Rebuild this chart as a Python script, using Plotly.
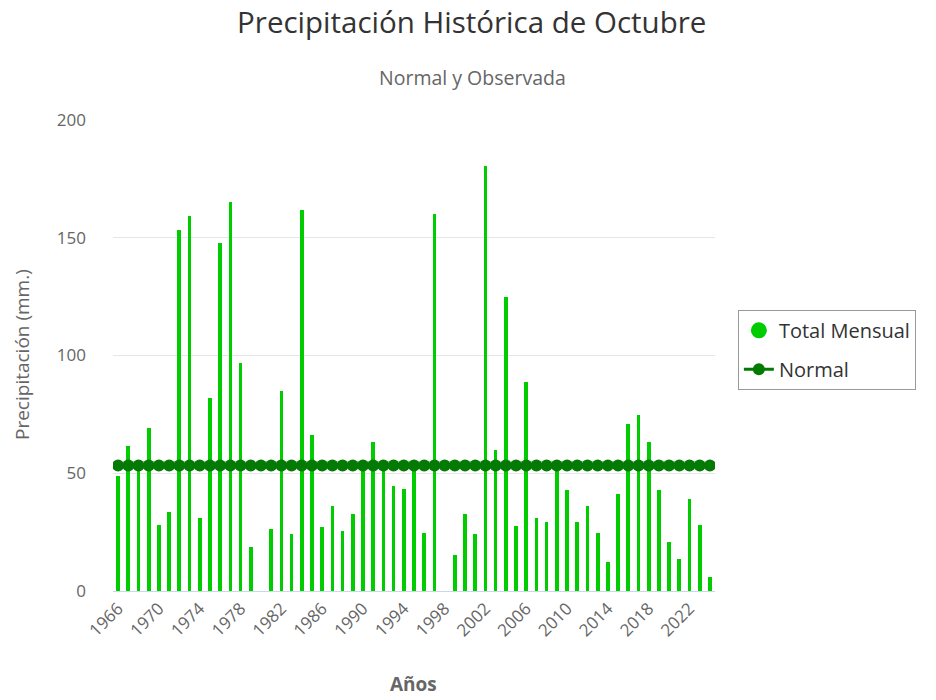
import plotly.graph_objects as go

years = list(range(1966, 2025))
total_mensual = [
    49.0, 61.5, 52.0, 69.4, 27.9, 33.4, 153.2, 159.4, 31.0, 82.0,
    147.6, 165.0, 96.8, 18.6, 0.0, 26.3, 85.0, 24.0, 161.8, 66.2,
    27.2, 36.3, 25.5, 32.5, 52.0, 63.1, 52.0, 44.4, 43.5, 52.0,
    24.6, 160.1, 0.0, 15.4, 32.5, 24.0, 180.6, 59.9, 124.9, 27.7,
    88.7, 31.0, 29.3, 52.0, 42.8, 29.3, 36.3, 24.6, 12.3, 41.1,
    71.0, 74.9, 63.1, 42.8, 20.8, 13.8, 38.9, 27.9, 5.9,
]
normal = [53.3] * len(years)
tick_years = list(range(1966, 2023, 4))

font_family = "Open Sans, Noto Sans, sans-serif"
bar_color = "#00cc00"
normal_color = "#037a03"

fig = go.Figure()
fig.add_trace(go.Bar(
    x=years, y=total_mensual, name="Total Mensual",
    marker=dict(color=bar_color, line=dict(width=0)),
    width=0.36, showlegend=False, legendgroup="a",
))
fig.add_trace(go.Scatter(
    x=[None], y=[None], mode="markers", name="Total Mensual",
    marker=dict(color=bar_color, size=16, symbol="circle"),
    legendgroup="a",
))
fig.add_trace(go.Scatter(
    x=years, y=normal, mode="lines+markers", name="Normal",
    line=dict(color=normal_color, width=3),
    marker=dict(color=normal_color, size=12),
    legendgroup="b",
))

fig.update_layout(
    width=936, height=700,
    margin=dict(l=113, r=221, t=120, b=109),
    paper_bgcolor="white", plot_bgcolor="white",
    font=dict(family=font_family, color="#666666"),
    title=dict(text="Precipitación Histórica de Octubre",
               x=0.504, xanchor="center", y=0.968, yanchor="middle",
               font=dict(size=29.5, color="#333333", family=font_family)),
    bargap=0,
    legend=dict(x=1.038, y=0.597, xanchor="left", yanchor="top",
                bordercolor="#999999", borderwidth=1,
                font=dict(size=20, color="#333333"),
                tracegroupgap=10, traceorder="grouped",
                itemsizing="trace"),
    annotations=[
        dict(text="Normal y Observada", xref="paper", yref="paper",
             x=(472 - 113) / 602, y=(591 - 77) / 471, xanchor="center", yanchor="middle",
             showarrow=False, font=dict(size=19.5, color="#666666")),
        dict(text="Precipitación (mm.)", xref="paper", yref="paper",
             x=(22 - 113) / 602, y=(591 - 355) / 471, xanchor="center", yanchor="middle",
             textangle=-90, showarrow=False, font=dict(size=19, color="#666666")),
        dict(text="<b>Años</b>", xref="paper", yref="paper",
             x=(413 - 113) / 602, y=(591 - 684) / 471, xanchor="center", yanchor="middle",
             showarrow=False, font=dict(size=19, color="#666666")),
    ],
)
fig.update_xaxes(
    range=[1965.5, 2024.5], tickmode="array", tickvals=tick_years,
    ticktext=[str(y) for y in tick_years], tickangle=-45,
    tickfont=dict(size=17, color="#666666"),
    showgrid=False, showline=True, linecolor="#ccd6eb", linewidth=1,
    ticks="", zeroline=False,
)
fig.update_yaxes(
    range=[0, 200], tickvals=[0, 50, 100, 150, 200],
    tickfont=dict(size=17, color="#666666"),
    showgrid=True, gridcolor="#e6e6e6", gridwidth=1,
    zeroline=False, showline=False, ticks="", ticklabelstandoff=26,
)

fig.write_html("out.html", post_script="document.body.style.margin='0';",
               config={"displayModeBar": False})
